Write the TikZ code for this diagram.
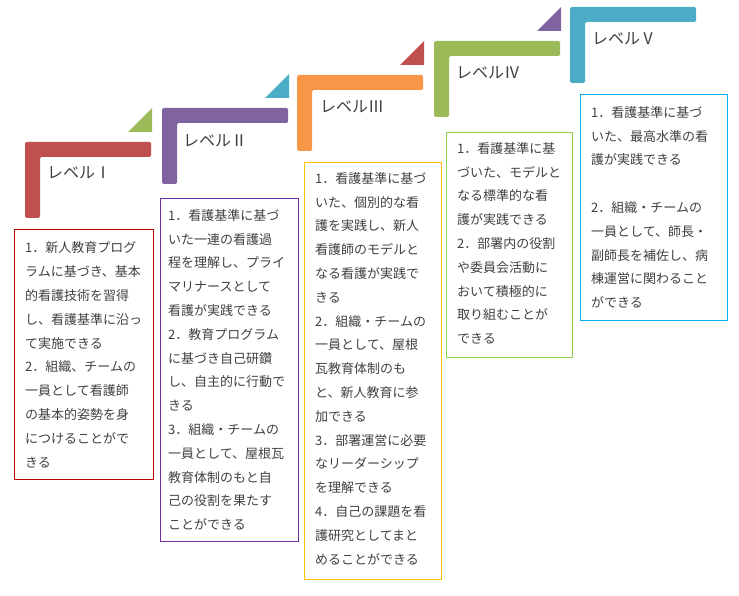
\documentclass[tikz,border=0pt]{standalone}
\usepackage{fontspec}
\newfontfamily\jpfont{Noto Sans CJK JP}
\definecolor{lvred}{HTML}{C0504D}
\definecolor{lvpurple}{HTML}{8064A2}
\definecolor{lvorange}{HTML}{F79646}
\definecolor{lvgreen}{HTML}{9BBB59}
\definecolor{lvteal}{HTML}{4BACC6}
\definecolor{bxred}{HTML}{C00000}
\definecolor{bxpurple}{HTML}{7030A0}
\definecolor{bxgold}{HTML}{FFC000}
\definecolor{bxgreen}{HTML}{92D050}
\definecolor{bxcyan}{HTML}{00B0F0}
\definecolor{textgray}{HTML}{404040}
\tikzset{
  lvlabel/.style={anchor=base west, inner sep=0pt, text=textgray,
    font=\jpfont\fontsize{16}{16}\selectfont},
  boxtext/.style={anchor=north west, inner sep=0pt, align=left, text=textgray,
    font=\jpfont\fontsize{13}{23.8}\selectfont},
  boxline/.style={line width=0.9pt}
}

\begin{document}
\begin{tikzpicture}[x=1pt,y=-1pt]
  \useasboundingbox (0,0) rectangle (739,596);
  % steps
  \foreach \x/\y/\c in {25/142/lvred, 162/108/lvpurple, 297/75/lvorange, 434/41/lvgreen, 570/7/lvteal}
    \fill[\c, rounded corners=1.5pt] (\x,\y) -- ++(126,0) -- ++(0,15) -- ++(-111,0) -- ++(0,61) -- ++(-15,0) -- cycle;
  \foreach \x/\y/\c in {25/142/lvgreen, 162/108/lvteal, 297/75/lvred, 434/41/lvpurple}
    \fill[\c] (\x+103,\y-10) -- (\x+127,\y-10) -- (\x+127,\y-34) -- cycle;

  \node[lvlabel] (lvI) at (47,179) {レベルⅠ};
  \node[lvlabel] (lvII) at (183,147) {レベルⅡ};
  \node[lvlabel] (lvIII) at (320,113) {レベルⅢ};
  \node[lvlabel] (lvIV) at (456,79) {レベルⅣ};
  \node[lvlabel] (lvV) at (592,45) {レベルⅤ};

  % boxes
  \draw[boxline, bxred] (14,229) rectangle (153,479);
  \draw[boxline, bxpurple] (160,198) rectangle (298,541);
  \draw[boxline, bxgold] (304,162) rectangle (441,579);
  \draw[boxline, bxgreen] (446,132) rectangle (572,357);
  \draw[boxline, bxcyan] (580,94) rectangle (727,320);

  \node[boxtext] (descI) at (25,241.8) {1．新人教育プログ\\ラムに基づき、基本\\的看護技術を習得\\し、看護基準に沿っ\\て実施できる\\2．組織、チームの\\一員として看護師\\の基本的姿勢を身\\につけることがで\\きる};
  \node[boxtext] (descII) at (168,209.1) {1．看護基準に基づ\\いた一連の看護過\\程を理解し、プライ\\マリナースとして\\看護が実践できる\\2．教育プログラム\\に基づき自己研鑽\\し、自主的に行動で\\きる\\3．組織・チームの\\一員として、屋根瓦\\教育体制のもと自\\己の役割を果たす\\ことができる};
  \node[boxtext] (descIII) at (315,172.1) {1．看護基準に基づ\\いた、個別的な看\\護を実践し、新人\\看護師のモデルと\\なる看護が実践で\\きる\\2．組織・チームの\\一員として、屋根\\瓦教育体制のも\\と、新人教育に参\\加できる\\3．部署運営に必要\\なリーダーシップ\\を理解できる\\4．自己の課題を看\\護研究としてまと\\めることができる};
  \node[boxtext] (descIV) at (457,142.1) {1．看護基準に基\\づいた、モデルと\\なる標準的な看\\護が実践できる\\2．部署内の役割\\や委員会活動に\\おいて積極的に\\取り組むことが\\できる};
  \node[boxtext] (descV) at (591,106.1) {1．看護基準に基づ\\いた、最高水準の看\\護が実践できる\\[23.8pt]2．組織・チームの\\一員として、師長・\\副師長を補佐し、病\\棟運営に関わること\\ができる};
\end{tikzpicture}
\end{document}
